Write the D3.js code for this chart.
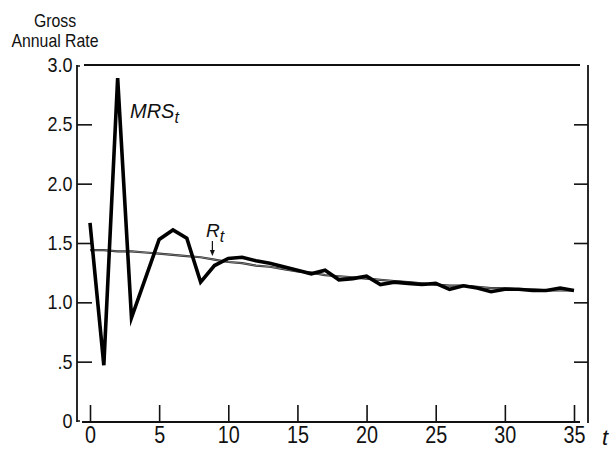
<!DOCTYPE html>
<html>
<head>
<meta charset="utf-8">
<script src="https://cdn.jsdelivr.net/npm/d3@7"></script>
<style>
  body { margin: 0; background: #fff; }
  svg text { font-family: "Liberation Sans", Arial, sans-serif; fill: #111; }
</style>
</head>
<body>
<div id="chart"></div>
<script>
// periods t = 0..35
var periods = d3.range(0, 36);

// MRS_t : marginal rate of substitution (thick line)
var mrsValues = [1.67, 0.47, 2.89, 0.87, 1.20, 1.53, 1.61, 1.54, 1.17, 1.31,
                 1.37, 1.38, 1.35, 1.33, 1.30, 1.27, 1.24, 1.27, 1.19, 1.20,
                 1.22, 1.15, 1.17, 1.16, 1.15, 1.16, 1.11, 1.14, 1.12, 1.09,
                 1.11, 1.11, 1.10, 1.10, 1.12, 1.10];

// R_t : gross annual rate (thin line)
var rValues = [1.44, 1.44, 1.43, 1.43, 1.42, 1.41, 1.40, 1.39, 1.38, 1.36,
               1.34, 1.33, 1.31, 1.30, 1.28, 1.26, 1.25, 1.23, 1.22, 1.21,
               1.20, 1.19, 1.18, 1.17, 1.16, 1.15, 1.14, 1.14, 1.13, 1.12,
               1.12, 1.11, 1.11, 1.10, 1.10, 1.10];

var xTicks = [0, 5, 10, 15, 20, 25, 30, 35];
var yTicks = [0, 0.5, 1.0, 1.5, 2.0, 2.5, 3.0];

var width = 616, height = 449;
var frame = { left: 77, right: 588, top: 65, bottom: 422 };

var svg = d3.select("#chart").append("svg")
    .attr("width", width)
    .attr("height", height);

var x = d3.scaleLinear().domain([0, 35]).range([90, 574]);
var y = d3.scaleLinear().domain([0, 3]).range([421, 65]);

// frame (slightly open corners like the print)
var frameLines = [
    [frame.left, frame.top, frame.left, frame.bottom],
    [frame.left + 7, frame.top, frame.right - 8, frame.top],
    [frame.right, frame.top, frame.right, frame.bottom + 1],
    [frame.left + 5, frame.bottom, frame.right - 8, frame.bottom]
];
svg.append("g").selectAll("line")
    .data(frameLines)
    .enter().append("line")
    .attr("x1", function(d) { return d[0]; })
    .attr("y1", function(d) { return d[1]; })
    .attr("x2", function(d) { return d[2]; })
    .attr("y2", function(d) { return d[3]; })
    .style("stroke", "#111")
    .style("stroke-width", 1.8);

// small hooks at left corners
svg.append("path")
    .attr("d", "M" + frame.left + "," + (frame.top + 1) + "h3 M" + frame.left + "," + (frame.bottom - 1) + "h3")
    .style("stroke", "#111").style("stroke-width", 1.5);

function yFormat(d) {
    if (d === 0) return "0";
    if (d < 1) return ".5";
    return d.toFixed(1);
}

// left axis, inward ticks
var yAxisLeft = d3.axisLeft(y).tickValues(yTicks).tickSize(-15).tickPadding(5).tickFormat(yFormat);
var gl = svg.append("g")
    .attr("transform", "translate(" + frame.left + ",0)")
    .call(yAxisLeft);
gl.select(".domain").remove();
// no tick marks on the frame corners themselves
gl.selectAll(".tick line").filter(function(d) { return d === 0 || d === 3; }).remove();
gl.selectAll(".tick text").style("font-size", "20px")
    .attr("transform", "scale(0.9,1)");

// right axis, inward ticks, no labels
var yAxisRight = d3.axisRight(y).tickValues(yTicks.slice(1, -1)).tickSize(-14).tickFormat("");
var gr = svg.append("g")
    .attr("transform", "translate(" + frame.right + ",0)")
    .call(yAxisRight);
gr.select(".domain").remove();

// bottom axis, ticks pointing up
var xAxis = d3.axisBottom(x).tickValues(xTicks).tickSize(-17).tickPadding(5);
var gb = svg.append("g")
    .attr("transform", "translate(0," + frame.bottom + ")")
    .call(xAxis);
gb.select(".domain").remove();
gb.selectAll(".tick text").style("font-size", "23px")
    .attr("transform", "scale(0.86,1)");

svg.selectAll(".tick line").style("stroke", "#111").style("stroke-width", 1.6);
svg.selectAll(".tick text").style("fill", "#111");

// lines
var line = d3.line()
    .x(function(d, i) { return x(periods[i]); })
    .y(function(d) { return y(d); });

svg.append("path")
    .datum(rValues)
    .attr("d", line)
    .style("fill", "none")
    .style("stroke", "#222")
    .style("stroke-width", 2.2);
svg.append("path")
    .datum(rValues)
    .attr("d", line)
    .style("fill", "none")
    .style("stroke", "#fff")
    .style("stroke-width", 0.6)
    .style("opacity", 0.7);

svg.append("path")
    .datum(mrsValues)
    .attr("d", line)
    .style("fill", "none")
    .style("stroke", "#000")
    .style("stroke-width", 3.6)
    .style("stroke-linejoin", "miter")
    .style("stroke-miterlimit", 10);

// labels
var mrsLabel = svg.append("text")
    .attr("x", 130).attr("y", 118)
    .style("font-size", "20px")
    .style("font-style", "italic");
mrsLabel.append("tspan").text("MRS");
mrsLabel.append("tspan").attr("dy", 5).style("font-size", "16px").text("t");

var rLabel = svg.append("text")
    .attr("x", 206).attr("y", 237)
    .style("font-size", "19px")
    .style("font-style", "italic");
rLabel.append("tspan").text("R");
rLabel.append("tspan").attr("dy", 5).style("font-size", "16px").text("t");

// arrow to R_t
svg.append("line")
    .attr("x1", x(8.85)).attr("y1", 241)
    .attr("x2", x(8.85)).attr("y2", 252)
    .style("stroke", "#111").style("stroke-width", 1.2);
svg.append("path")
    .attr("d", "M" + (x(8.85) - 2.5) + ",250 L" + x(8.85) + ",256 L" + (x(8.85) + 2.5) + ",250 Z")
    .style("fill", "#111");

// axis titles (condensed look)
svg.append("text")
    .attr("transform", "translate(55,27) scale(0.88,1)")
    .attr("text-anchor", "middle")
    .style("font-size", "18px")
    .text("Gross");
svg.append("text")
    .attr("transform", "translate(55,47) scale(0.88,1)")
    .attr("text-anchor", "middle")
    .style("font-size", "18px")
    .text("Annual Rate");

svg.append("text")
    .attr("x", 605).attr("y", 445)
    .attr("text-anchor", "middle")
    .style("font-size", "22px")
    .style("font-style", "italic")
    .text("t");
</script>
</body>
</html>
